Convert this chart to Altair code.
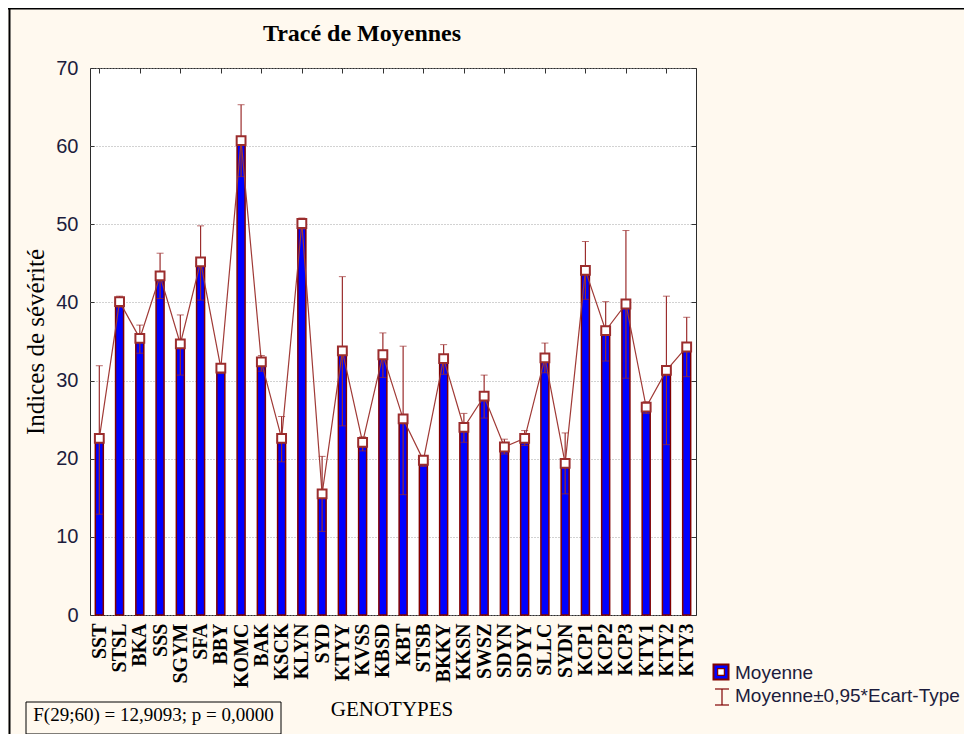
import altair as alt
import pandas as pd

categories = ["SST", "STSL", "BKA", "SSS", "SGYM", "SFA", "BBY", "KOMC", "BAK", "KSCK",
              "KLYN", "SYD", "KTYY", "KVSS", "KBSD", "KBT", "STSB", "BKKY", "KKSN", "SWSZ",
              "SDYN", "SDYY", "SLLC", "SYDN", "KCP1", "KCP2", "KCP3", "KTY1", "KTY2", "KTY3"]
means = [22.6, 40.1, 35.4, 43.4, 34.7, 45.2, 31.6, 60.7, 32.4, 22.6,
         50.1, 15.5, 33.8, 22.1, 33.3, 25.1, 19.8, 32.8, 24.0, 28.0,
         21.5, 22.6, 32.9, 19.4, 44.1, 36.4, 39.8, 26.6, 31.3, 34.3]
upper = [31.9, 40.8, 37.1, 46.3, 38.4, 49.8, 32.0, 65.3, 33.2, 25.4,
         50.8, 20.3, 43.3, 22.8, 36.1, 34.4, 20.4, 34.6, 25.8, 30.7,
         22.5, 23.6, 34.8, 23.3, 47.8, 40.1, 49.2, 27.3, 40.8, 38.1]
lower = [12.9, 39.4, 33.5, 40.5, 30.7, 40.3, 30.9, 56.1, 31.2, 19.6,
         49.4, 10.7, 24.2, 21.0, 30.4, 15.4, 19.0, 30.8, 22.1, 25.2,
         20.6, 21.7, 31.0, 15.5, 40.4, 32.5, 30.3, 25.8, 21.8, 30.5]
y_ticks = [0, 10, 20, 30, 40, 50, 60, 70]

title_text = "Tracé de Moyennes"
y_title = "Indices de sévérité"
x_title = "GENOTYPES"
stat_text = "F(29;60) = 12,9093; p = 0,0000"
legend_mean = "Moyenne"
legend_err = "Moyenne±0,95*Ecart-Type"

df = pd.DataFrame({"g": categories, "m": means, "lo": lower, "hi": upper,
                   "i": list(range(len(categories)))})

RED = "#9B2D2D"
DARK = "#800000"
SERIF = "Liberation Serif"
SANS = "Liberation Sans"

xs = alt.Scale(domain=categories, type="point", padding=0.46)
ys = alt.Scale(domain=[0, 70], nice=False, zero=True)

base = alt.Chart(df)

bars = base.mark_bar(size=8, fill="#0000FF", stroke=DARK, strokeWidth=1.5).encode(
    x=alt.X("g:N", scale=xs,
            axis=alt.Axis(orient="bottom", title=None, labelAngle=270,
                          labelFont=SERIF, labelFontWeight="bold", labelFontSize=20,
                          labelColor="black", labelPadding=8, ticks=False,
                          domain=False, grid=False, labelOverlap=False)),
    y=alt.Y("m:Q", scale=ys,
            axis=alt.Axis(orient="left", title=None, values=y_ticks, grid=True,
                          gridColor="#A5A5A5", gridDash=[1, 2], gridWidth=1,
                          labelFont=SANS, labelFontSize=20, labelColor="#1C1C3C",
                          labelPadding=12, tickSize=4, offset=-4, tickColor="#333333",
                          domain=False)),
)

rules = base.mark_rule(color=RED, strokeWidth=1.2).encode(
    x=alt.X("g:N", scale=xs,
            axis=alt.Axis(orient="top", title=None, labels=False,
                          values=categories[::2], tickSize=5, offset=-5,
                          tickColor="#333333", domain=False, grid=False)),
    y=alt.Y("lo:Q", scale=ys,
            axis=alt.Axis(orient="right", title=None, labels=False, values=y_ticks,
                          tickSize=5, offset=-5, tickColor="#333333",
                          domain=False, grid=False)),
    y2="hi:Q",
)

cap_hi = base.mark_tick(color=RED, size=7, thickness=1, orient="horizontal").encode(
    x=alt.X("g:N", scale=xs, axis=None), y=alt.Y("hi:Q", scale=ys, axis=None))
cap_lo = base.mark_tick(color=RED, size=7, thickness=1, orient="horizontal").encode(
    x=alt.X("g:N", scale=xs, axis=None), y=alt.Y("lo:Q", scale=ys, axis=None))

line = base.mark_line(color="#A03A36", strokeWidth=1.2).encode(
    x=alt.X("g:N", scale=xs, axis=None), y=alt.Y("m:Q", scale=ys, axis=None),
    order="i:Q")

pts = base.mark_square(size=78, fill="white", stroke=RED, strokeWidth=2, opacity=1).encode(
    x=alt.X("g:N", scale=xs, axis=None), y=alt.Y("m:Q", scale=ys, axis=None))


def txt(text, x, y, **kw):
    return alt.Chart(pd.DataFrame({"t": [text]})).mark_text(**kw).encode(
        text="t:N", x=alt.value(x), y=alt.value(y))


one = pd.DataFrame({"k": [0]})

title = txt(title_text, 272, -27, font=SERIF, fontSize=24, fontWeight="bold",
            color="black", align="center", baseline="alphabetic")
ytitle = txt(y_title, -46, 274, font=SERIF, fontSize=25, color="black",
             align="center", baseline="alphabetic", angle=270)
xtitle = txt(x_title, 302, 648, font=SERIF, fontSize=21, color="black",
             align="center", baseline="alphabetic")
stat = txt(stat_text, 63.5, 653, font=SERIF, fontSize=19, color="black",
           align="center", baseline="alphabetic")
stat_box = alt.Chart(one).mark_rect(fill="white", fillOpacity=0, stroke="black",
                                    strokeWidth=1).encode(
    x=alt.value(-64), x2=alt.value(191), y=alt.value(634), y2=alt.value(666))

leg_sq = alt.Chart(one).mark_square(size=225, fill="#0000FF", stroke=DARK,
                                    strokeWidth=2, opacity=1).encode(
    x=alt.value(631), y=alt.value(604))
leg_sq_in = alt.Chart(one).mark_square(size=45, fill="white", stroke=DARK,
                                       strokeWidth=1.2, opacity=1).encode(
    x=alt.value(631), y=alt.value(604))
leg_v = alt.Chart(one).mark_rule(color=DARK, strokeWidth=1.2).encode(
    x=alt.value(632), y=alt.value(621), y2=alt.value(637))
leg_c1 = alt.Chart(one).mark_rule(color=DARK, strokeWidth=1.2).encode(
    x=alt.value(625), x2=alt.value(639), y=alt.value(621))
leg_c2 = alt.Chart(one).mark_rule(color=DARK, strokeWidth=1.2).encode(
    x=alt.value(625), x2=alt.value(639), y=alt.value(637))
leg_t1 = txt(legend_mean, 645, 611, font=SANS, fontSize=19, color="#1C1C3C",
             align="left", baseline="alphabetic")
leg_t2 = txt(legend_err, 645, 634, font=SANS, fontSize=19, color="#1C1C3C",
             align="left", baseline="alphabetic")

frame_l = alt.Chart(one).mark_rule(color="black", strokeWidth=2).encode(
    x=alt.value(-80.5), y=alt.value(-60), y2=alt.value(666))
frame_t = alt.Chart(one).mark_rule(color="black", strokeWidth=2).encode(
    x=alt.value(-82), x2=alt.value(874), y=alt.value(-59.5))

chart = alt.layer(
    bars, rules, cap_hi, cap_lo, line, pts,
    title, ytitle, xtitle, stat_box, stat,
    leg_sq, leg_sq_in, leg_v, leg_c1, leg_c2, leg_t1, leg_t2,
    frame_l, frame_t,
).resolve_axis(x="independent", y="independent").properties(
    width=606, height=547,
    autosize=alt.AutoSizeParams(type="none"),
    padding={"left": 82, "top": 60, "right": 268, "bottom": 119},
    background="#FFF9EF",
).configure_view(fill="white", stroke="#2B2B2B", strokeWidth=1)

chart.save("out.html", embed_options={"renderer": "svg", "actions": False})
